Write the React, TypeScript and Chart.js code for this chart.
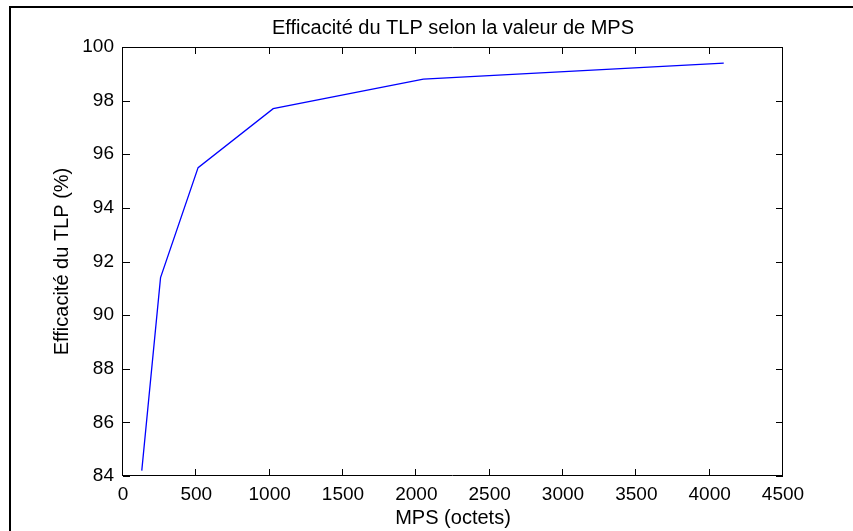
import React, { useEffect, useRef } from "react";
import { Chart, registerables } from "chart.js";

Chart.register(...registerables);

const mpsValues = [128, 256, 512, 1024, 2048, 4096];
const efficiency = [84.2, 91.4, 95.5, 97.7, 98.8, 99.4];
const chartTitle = "Efficacité du TLP selon la valeur de MPS";
const xTitle = "MPS (octets)";
const yTitle = "Efficacité du TLP (%)";
const xRange = { min: 0, max: 4500, step: 500 };
const yRange = { min: 84, max: 100, step: 2 };

const FONT = "'Liberation Sans', Arial, Helvetica, sans-serif";

const boxPlugin = {
  id: "matlabBox",
  beforeDraw(chart: any) {
    const ctx = chart.ctx;
    ctx.save();
    ctx.fillStyle = "#000";
    // outer figure frame
    ctx.fillRect(9, 6, chart.width, 2);
    ctx.fillRect(9, 6, 2, chart.height);
    ctx.restore();
  },
  afterDraw(chart: any) {
    const ctx = chart.ctx;
    const { left, right, top, bottom } = chart.chartArea;
    const xs = chart.scales.x;
    const ys = chart.scales.y;
    const tl = 7;
    ctx.save();
    ctx.strokeStyle = "#000";
    ctx.lineWidth = 1;
    ctx.beginPath();
    ctx.rect(Math.round(left) - 0.5, Math.round(top) + 0.5, Math.round(right - left), Math.round(bottom - top) - 1);
    ctx.stroke();
    ctx.beginPath();
    xs.ticks.forEach((t: any) => {
      const px = Math.round(xs.getPixelForValue(t.value)) - 0.5;
      ctx.moveTo(px, bottom);
      ctx.lineTo(px, bottom - tl);
      ctx.moveTo(px, top);
      ctx.lineTo(px, top + tl);
    });
    ys.ticks.forEach((t: any) => {
      const py = Math.round(ys.getPixelForValue(t.value)) + 0.5;
      ctx.moveTo(left, py);
      ctx.lineTo(left + tl, py);
      ctx.moveTo(right, py);
      ctx.lineTo(right - tl, py);
    });
    ctx.stroke();
    ctx.restore();
  },
};

export default function App() {
  const ref = useRef<HTMLCanvasElement | null>(null);

  useEffect(() => {
    if (!ref.current) return;
    const chart = new Chart(ref.current, {
      type: "line",
      data: {
        datasets: [
          {
            data: mpsValues.map((x, i) => ({ x, y: efficiency[i] })),
            borderColor: "#0000ff",
            borderWidth: 1.3,
            pointRadius: 0,
            fill: false,
            tension: 0,
          },
        ],
      },
      options: {
        responsive: false,
        animation: false,
        layout: { padding: { left: 0, right: 70, top: 0, bottom: 0 } },
        plugins: {
          legend: { display: false },
          tooltip: { enabled: false },
          title: {
            display: true,
            text: chartTitle,
            fullSize: false,
            color: "#000",
            font: { family: FONT, size: 20, weight: "normal", lineHeight: 1.2 },
            padding: { top: 16.5, bottom: 6.5 },
          },
        },
        scales: {
          x: {
            type: "linear",
            min: xRange.min,
            max: xRange.max,
            grid: { display: false, drawTicks: false },
            border: { display: false },
            ticks: {
              stepSize: xRange.step,
              color: "#000",
              padding: 7,
              maxRotation: 0,
              font: { family: FONT, size: 19 },
              callback: (v: any) => String(v),
            },
            title: {
              display: true,
              text: xTitle,
              color: "#000",
              font: { family: FONT, size: 20, lineHeight: 1.2 },
              padding: { top: 0, bottom: 0.5 },
            },
            afterFit(scale: any) {
              scale.height = 55;
            },
          },
          y: {
            type: "linear",
            min: yRange.min,
            max: yRange.max,
            grid: { display: false, drawTicks: false },
            border: { display: false },
            ticks: {
              stepSize: yRange.step,
              color: "#000",
              padding: 9,
              font: { family: FONT, size: 19 },
              callback: (v: any) => String(v),
            },
            title: {
              display: true,
              text: yTitle,
              color: "#000",
              font: { family: FONT, size: 20, lineHeight: 1.2 },
              padding: { top: 50.5, bottom: 0 },
            },
            afterFit(scale: any) {
              scale.width = 123;
            },
          },
        },
      },
      plugins: [boxPlugin],
    });
    return () => chart.destroy();
  }, []);

  return (
    <div style={{ position: "absolute", left: 0, top: 0, width: 853, height: 531, background: "#fff" }}>
      <canvas ref={ref} width={853} height={531} style={{ display: "block" }} />
    </div>
  );
}
